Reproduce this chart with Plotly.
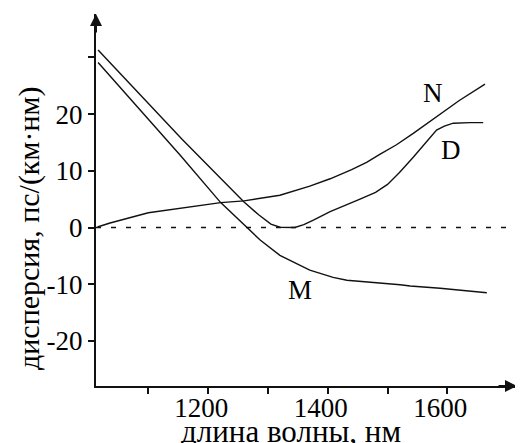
import plotly.graph_objects as go

# Wavelength (nm) and dispersion (ps/(km*nm))
wl_D = [1016, 1156, 1260, 1285, 1305, 1320, 1345, 1360, 1376, 1404, 1454, 1480, 1500, 1520, 1543, 1570, 1577, 1582, 1595, 1610, 1638, 1660]
disp_D = [31.3, 15.6, 4.5, 2.2, 0.6, 0.05, 0.0, 0.5, 1.3, 2.8, 5.0, 6.2, 7.6, 9.7, 12.4, 15.6, 16.5, 17.2, 17.9, 18.4, 18.5, 18.5]

wl_M = [1016, 1130, 1153, 1221, 1265, 1287, 1320, 1370, 1409, 1432, 1521, 1538, 1588, 1666]
disp_M = [29.1, 15.6, 12.8, 4.4, 0.1, -2.2, -4.9, -7.5, -8.8, -9.3, -10.1, -10.3, -10.7, -11.5]

wl_N = [1015, 1036, 1100, 1153, 1221, 1260, 1320, 1370, 1404, 1440, 1465, 1487, 1515, 1543, 1577, 1620, 1663]
disp_N = [0.1, 0.8, 2.6, 3.4, 4.4, 4.7, 5.7, 7.3, 8.6, 10.2, 11.5, 12.9, 14.6, 16.6, 19.2, 22.4, 25.3]

x_tickvals = [1100, 1200, 1300, 1400, 1500, 1600]
x_ticktext = ["", "1200", "", "1400", "", "1600"]
y_tickvals = [-20, -10, 0, 10, 20, 30]
y_ticktext = ["-20", "-10", "0", "10", "20", ""]

curve_labels = ["N", "D", "M"]
label_x = [1576, 1606, 1354]
label_y = [23.7, 13.7, -11.0]

x_range = [1012.5, 1716.5]
y_range = [-27.95, 37.66]

FONT = "Liberation Serif, Times New Roman, serif"
LINE = "#111111"

fig = go.Figure()
for wl, d in [(wl_D, disp_D), (wl_M, disp_M), (wl_N, disp_N)]:
    fig.add_trace(go.Scatter(x=wl, y=d, mode="lines",
                             line=dict(color=LINE, width=1.4),
                             showlegend=False, hoverinfo="skip"))

# dashed zero line
fig.add_shape(type="line", xref="paper", yref="y", x0=0, x1=1.015, y0=0, y1=0,
              line=dict(color=LINE, width=1.5, dash="5px,10px"))

for t, lx, ly in zip(curve_labels, label_x, label_y):
    fig.add_annotation(x=lx, y=ly, text=t, showarrow=False,
                       font=dict(family=FONT, size=27, color="black"))

# axis arrows
fig.add_annotation(x=x_range[1], y=y_range[0], ax=-20, ay=0, text="",
                   showarrow=True, arrowhead=2, arrowsize=1.2, arrowwidth=2,
                   arrowcolor=LINE)
fig.add_annotation(x=x_range[0], y=y_range[1], ax=0, ay=20, text="",
                   showarrow=True, arrowhead=2, arrowsize=1.2, arrowwidth=2,
                   arrowcolor=LINE)

# axis titles
fig.add_annotation(xref="paper", yref="paper", x=(290.5 - 96) / 421, y=(386 - 432) / 372,
                   text="длина волны, нм", showarrow=False,
                   font=dict(family=FONT, size=31, color="black"),
                   xanchor="center", yanchor="middle")
fig.add_annotation(xref="paper", yref="paper", x=(29 - 96) / 421, y=(386 - 229) / 372,
                   text="дисперсия, пс/(км·нм)", showarrow=False, textangle=-90,
                   font=dict(family=FONT, size=30, color="black"),
                   xanchor="center", yanchor="middle")

fig.update_layout(
    width=515, height=435,
    margin=dict(l=88, r=6, t=6, b=57),
    paper_bgcolor="white", plot_bgcolor="white",
    xaxis=dict(range=x_range, showgrid=False, zeroline=False,
               showline=True, linecolor=LINE, linewidth=2,
               ticks="outside", ticklen=6, tickwidth=1.5, tickcolor=LINE,
               tickvals=x_tickvals, ticktext=x_ticktext,
               ticklabelstandoff=-9, ticklabelshift=-7,
               tickfont=dict(family=FONT, size=27, color="black")),
    yaxis=dict(range=y_range, showgrid=False, zeroline=False,
               showline=True, linecolor=LINE, linewidth=2,
               ticks="outside", ticklen=6, tickwidth=1.5, tickcolor=LINE,
               tickvals=y_tickvals, ticktext=y_ticktext,
               tickfont=dict(family=FONT, size=27, color="black")),
)

fig.write_html("out.html")
